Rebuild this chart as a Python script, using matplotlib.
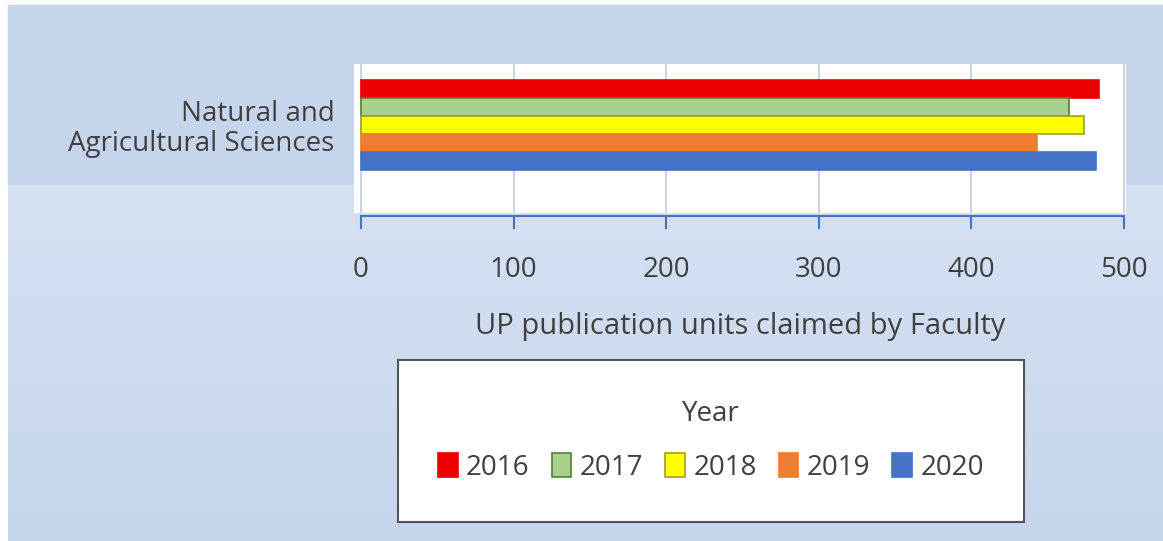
import matplotlib.pyplot as plt
import matplotlib.patches as mpatches
from matplotlib.colors import LinearSegmentedColormap
import numpy as np

category = "Natural and\nAgricultural Sciences"
years = ["2016", "2017", "2018", "2019", "2020"]
values = [484, 464, 474, 443, 482]
colors = ["#ee0000", "#a9d18e", "#ffff00", "#ed7d31", "#4472c4"]
edges = ["#ee0000", "#548235", "#a0a020", "#ed7d31", "#4472c4"]

plt.rcParams['font.family'] = ['Open Sans', 'DejaVu Sans']
text_color = "#404040"

fig = plt.figure(figsize=(11.63, 5.41), dpi=100)
fig.patch.set_facecolor("white")

# background bands (slide look)
fig.patches.append(mpatches.Rectangle((8 / 1163, 1 - 185 / 541), 1, 180 / 541,
                                      transform=fig.transFigure, color="#c6d5ec", zorder=-10))
grad = np.linspace(0, 1, 100).reshape(-1, 1)
bg = fig.add_axes([8 / 1163, 0, 1 - 8 / 1163, 1 - 185 / 541], zorder=-5)
cmap = LinearSegmentedColormap.from_list("bg", ["#c6d5ec", "#d6e1f3"])
bg.imshow(grad, aspect="auto", cmap=cmap, extent=[0, 1, 0, 1], origin="lower")
bg.axis("off")

ax = fig.add_axes([354 / 1163, 1 - 213 / 541, 772 / 1163, 149 / 541])
ax.set_facecolor("white")

w = 0.16
for i, (yr, v, c, e) in enumerate(zip(years, values, colors, edges)):
    ax.barh((i - 2) * w, v, height=w, color=c, edgecolor=e, linewidth=1.2, label=yr, zorder=3)

ax.set_xlim(-4.6, 501.5)
ax.set_ylim(0.782, -0.542)
ax.set_xticks([0, 100, 200, 300, 400, 500])
ax.set_yticks([0])
ax.set_yticklabels([category], fontsize=20, color=text_color, linespacing=1.05)
ax.tick_params(axis="y", length=0, pad=14)
ax.tick_params(axis="x", direction="out", length=9, width=1.5, color="#4472c4",
               labelsize=20, labelcolor=text_color, pad=20)
ax.grid(axis="x", color="#c0cce0", linewidth=1.2, zorder=0)
for s in ["top", "right", "left"]:
    ax.spines[s].set_visible(False)
ax.spines["bottom"].set_color("#4472c4")
ax.spines["bottom"].set_linewidth(1.5)
ax.spines["bottom"].set_bounds(0, 500)
ax.spines["bottom"].set_position(("outward", 2))

ax.set_xlabel("UP publication units claimed by Faculty", fontsize=21, color=text_color, labelpad=20)

leg = fig.legend(loc="center", bbox_to_anchor=(711 / 1163, 1 - 441 / 541), ncol=5, title="Year",
                 fontsize=20, title_fontsize=20, frameon=True, fancybox=False, framealpha=1,
                 handlelength=0.7, handleheight=0.9, handletextpad=0.3, columnspacing=0.8,
                 borderpad=1.45, labelspacing=0.9)
leg.get_frame().set_edgecolor("#555555")
leg.get_frame().set_linewidth(1.5)
leg.get_title().set_color(text_color)
for t in leg.get_texts():
    t.set_color(text_color)

fig.savefig("out.png", dpi=100, facecolor=fig.get_facecolor())
